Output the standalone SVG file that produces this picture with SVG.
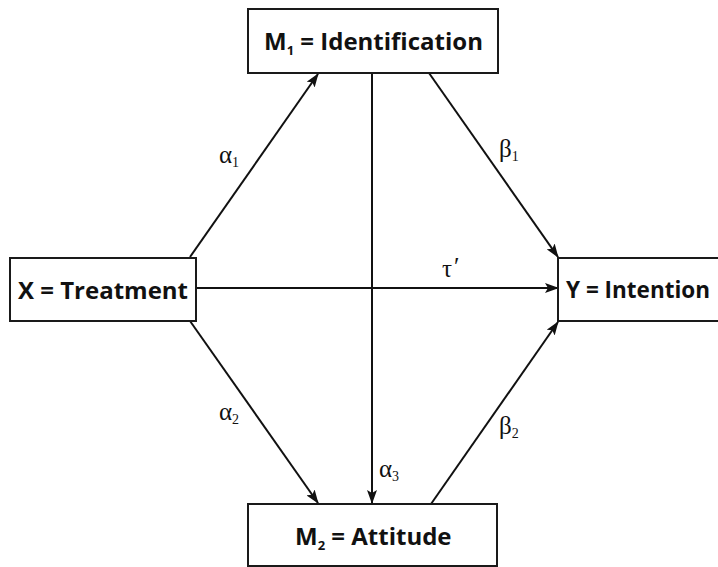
<svg xmlns="http://www.w3.org/2000/svg" width="718" height="567" viewBox="0 0 718 567">
<defs>
<style>
.box{fill:#fff;stroke:#1a1a1a;stroke-width:2}
.lbl{font-family:"Open Sans","DejaVu Sans",sans-serif;font-weight:700;font-size:24px;fill:#111}
.sub{font-size:13px}
.gk{font-family:"Liberation Serif","Times New Roman",serif;font-size:25px;fill:#111}
.gs{font-size:14px}
.edge{stroke:#111;stroke-width:2;fill:none;marker-end:url(#ah)}
</style>
<marker id="ah" viewBox="0 0 14 10" refX="13" refY="5" markerWidth="14" markerHeight="10" markerUnits="userSpaceOnUse" orient="auto">
<path d="M0,0 L14,5 L0,10 L3,5 Z" fill="#111"/>
</marker>
</defs>
<rect width="718" height="567" fill="#fff"/>
<g id="connectors">
<line class="edge" x1="190" y1="257" x2="318" y2="74"/>
<line class="edge" x1="429" y1="73" x2="558" y2="257"/>
<line class="edge" x1="196" y1="288" x2="558" y2="288"/>
<line class="edge" x1="372" y1="73" x2="372" y2="503"/>
<line class="edge" x1="190" y1="321" x2="318" y2="503"/>
<line class="edge" x1="431" y1="504" x2="558" y2="322"/>
</g>
<g id="labels">
<text class="gk" x="219" y="163">α<tspan class="gs" dy="4">1</tspan></text>
<text class="gk" x="499" y="157">β<tspan class="gs" dy="4">1</tspan></text>
<text class="gk" x="442" y="277">τ<tspan dx="2" dy="-2">′</tspan></text>
<text class="gk" x="219" y="420">α<tspan class="gs" dy="4">2</tspan></text>
<text class="gk" x="499" y="434">β<tspan class="gs" dy="4">2</tspan></text>
<text class="gk" x="379" y="477">α<tspan class="gs" dy="4">3</tspan></text>
</g>
<g id="m1">
<rect class="box" x="248" y="9" width="250" height="64"/>
<text class="lbl" x="264" y="50">M<tspan class="sub" dy="5">1</tspan><tspan dy="-5"> = Identification</tspan></text>
</g>
<g id="x">
<rect class="box" x="10" y="258" width="186" height="63"/>
<text class="lbl" x="18" y="299">X = Treatment</text>
</g>
<g id="y">
<rect class="box" x="558" y="258" width="170" height="63"/>
<text class="lbl" x="566" y="298" style="font-size:22.5px">Y = Intention</text>
</g>
<g id="m2">
<rect class="box" x="248" y="504" width="249" height="62"/>
<text class="lbl" x="295" y="545">M<tspan class="sub" dy="5">2</tspan><tspan dy="-5"> = Attitude</tspan></text>
</g>
</svg>
